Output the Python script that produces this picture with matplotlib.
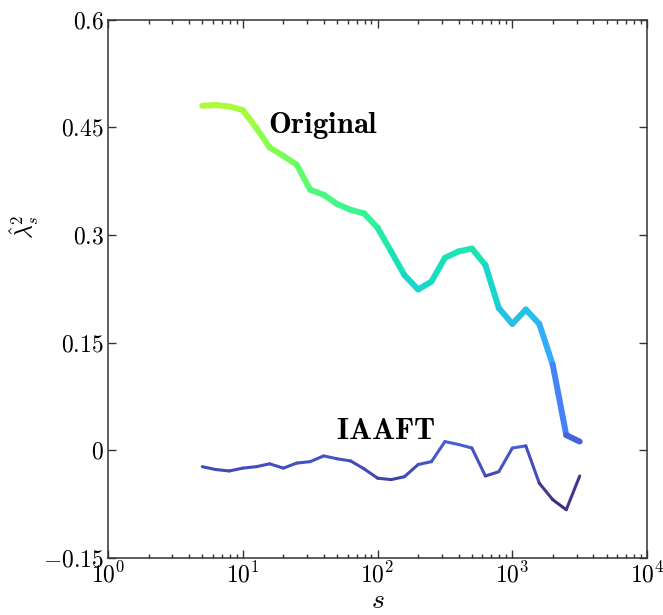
import numpy as np
import matplotlib
matplotlib.use("Agg")
import matplotlib.pyplot as plt
from matplotlib.collections import LineCollection
from matplotlib.colors import Normalize
from matplotlib.ticker import FixedLocator, FixedFormatter, LogLocator

plt.rcParams["mathtext.fontset"] = "cm"
plt.rcParams["font.family"] = "serif"
plt.rcParams["font.serif"] = ["cmr10", "DejaVu Serif"]
plt.rcParams["axes.formatter.use_mathtext"] = True

# scales s (log spaced, 0.1 decade steps)
scales = [5.0, 6.31, 7.94, 10.0, 12.6, 15.8, 20.0, 25.1, 31.6, 39.8,
          50.1, 63.1, 79.4, 100.0, 126.0, 158.0, 200.0, 251.0, 316.0, 398.0,
          501.0, 631.0, 794.0, 1000.0, 1259.0, 1585.0, 1995.0, 2512.0, 3162.0]

# lambda^2 estimates for the original series
lam_original = [0.480, 0.481, 0.479, 0.474, 0.449, 0.422, 0.410, 0.398, 0.363, 0.356,
                0.343, 0.335, 0.330, 0.310, 0.277, 0.244, 0.224, 0.235, 0.268, 0.277,
                0.281, 0.258, 0.198, 0.176, 0.196, 0.176, 0.119, 0.021, 0.012]

# lambda^2 estimates for the IAAFT surrogate
lam_iaaft = [-0.023, -0.027, -0.029, -0.025, -0.023, -0.019, -0.025, -0.018, -0.016, -0.008,
             -0.012, -0.015, -0.026, -0.039, -0.041, -0.037, -0.020, -0.016, 0.012, 0.008,
             0.003, -0.036, -0.030, 0.003, 0.006, -0.046, -0.069, -0.083, -0.036]

yticks = [-0.15, 0, 0.15, 0.3, 0.45, 0.6]
ytick_labels = [r"$-0.15$", r"$0$", r"$0.15$", r"$0.3$", r"$0.45$", r"$0.6$"]


def colored_line(ax, x, y, lw, norm):
    x = np.asarray(x)
    y = np.asarray(y)
    pts = np.column_stack([x, y]).reshape(-1, 1, 2)
    segs = np.concatenate([pts[:-1], pts[1:]], axis=1)
    mid = 0.5 * (y[:-1] + y[1:])
    lc = LineCollection(segs, cmap="turbo", norm=norm, linewidths=lw,
                        capstyle="round", joinstyle="round")
    lc.set_array(mid)
    ax.add_collection(lc)
    return lc


fig = plt.figure(figsize=(6.63, 6.15), dpi=100)
ax = fig.add_axes([0.163, 0.093, 0.813, 0.875])
ax.set_xscale("log")

norm = Normalize(vmin=-0.12, vmax=1.05)
colored_line(ax, scales, lam_original, 4.3, norm)
colored_line(ax, scales, lam_iaaft, 2.2, norm)

ax.set_xlim(1, 1e4)
ax.set_ylim(-0.15, 0.6)

ax.yaxis.set_major_locator(FixedLocator(yticks))
ax.yaxis.set_major_formatter(FixedFormatter(ytick_labels))
ax.xaxis.set_major_locator(LogLocator(base=10, numticks=10))
ax.xaxis.set_minor_locator(LogLocator(base=10, subs=np.arange(2, 10), numticks=20))

ax.tick_params(which="both", direction="in", top=True, right=True,
               labelsize=17, color="#333333", pad=3)
ax.tick_params(which="major", length=6, width=1)
ax.tick_params(which="minor", length=3, width=1)
for sp in ax.spines.values():
    sp.set_linewidth(1.1)
    sp.set_color("#333333")

ax.set_xlabel(r"$s$", fontsize=20, labelpad=0)
ax.set_ylabel(r"$\hat{\lambda}^2_s$", fontsize=17)
ax.yaxis.set_label_coords(-0.125, 0.615)

ax.text(15.4, 0.452, r"$\mathbf{Original}$", fontsize=22, va="center", ha="left")
ax.text(49.0, 0.027, r"$\mathbf{IAAFT}$", fontsize=22, va="center", ha="left")

fig.savefig("out.png", dpi=100)
